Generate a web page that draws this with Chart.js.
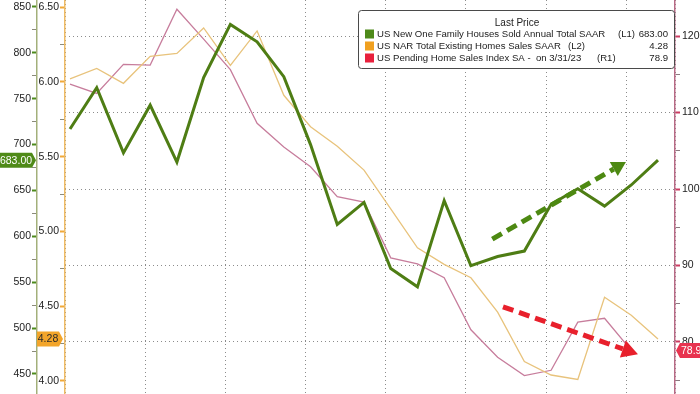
<!DOCTYPE html>
<html>
<head>
<meta charset="utf-8">
<script src="https://cdn.jsdelivr.net/npm/chart.js@4.4.0/dist/chart.umd.min.js"></script>
<style>
  html, body { margin: 0; padding: 0; background: #fff; overflow: hidden; }
</style>
</head>
<body>
<canvas id="grafico" width="700" height="394"></canvas>
<script>
// monthly points, Jun 2021 .. Apr 2023
const months = ['Jun 2021', 'Jul 2021', 'Aug 2021', 'Sep 2021', 'Oct 2021', 'Nov 2021', 'Dec 2021',
  'Jan 2022', 'Feb 2022', 'Mar 2022', 'Apr 2022', 'May 2022', 'Jun 2022', 'Jul 2022', 'Aug 2022',
  'Sep 2022', 'Oct 2022', 'Nov 2022', 'Dec 2022', 'Jan 2023', 'Feb 2023', 'Mar 2023', 'Apr 2023'];
const newHomeSales = [717, 762, 691, 743, 681, 773, 831, 812, 774, 700, 613, 637, 565, 545, 639, 568,
  578, 584, 635, 652, 633, 656, 683];
const existingHomeSales = [6.02, 6.09, 5.99, 6.17, 6.19, 6.36, 6.11, 6.34, 5.91, 5.70, 5.57, 5.41, 5.15,
  4.89, 4.78, 4.69, 4.46, 4.13, 4.04, 4.01, 4.56, 4.44, 4.28];
const pendingIndex = [113.7, 112.5, 116.3, 116.2, 123.5, 119.6, 115.6, 108.6, 105.5, 102.9, 99.0, 98.3,
  91.0, 90.2, 88.4, 81.6, 78.0, 75.6, 76.3, 82.6, 83.1, 78.9, null];

const newSalesTicks = [450, 500, 550, 600, 650, 700, 750, 800, 850];
const existingTicks = [4.0, 4.5, 5.0, 5.5, 6.0, 6.5];
const pendingTicks = [80, 90, 100, 110, 120];

const seriesNames = ['US New One Family Houses Sold Annual Total SAAR', 'US NAR Total Existing Homes Sales SAAR',
  'US Pending Home Sales Index SA -  on 3/31/23'];
const seriesAxes = ['(L1)', '(L2)', '(R1)'];

// arrows: [x from, y from, x to, y to] in data units
const arrowUp = [15.8, 597, 20.8, 681];
const arrowDown = [16.2, 84.6, 21.25, 78.4];

const FONT = 'Liberation Sans';

function toPoints(arr) {
  return arr.map((v, i) => ({x: i, y: v}));
}

// majors + halfway minors
function withMinors(majors) {
  const out = [];
  const step = majors[1] - majors[0];
  majors.forEach(v => { out.push(v - step / 2); out.push(v); });
  out.push(majors[majors.length - 1] + step / 2);
  return out.map(v => ({value: Math.round(v * 1000) / 1000}));
}

function isMajor(list, v) {
  return list.some(m => Math.abs(m - v) < 1e-6);
}

function yAxis(pos, weight, min, max, list, fmt, color, tickColor, width, pad) {
  return {
    position: pos,
    weight: weight,
    bounds: 'data',
    min: min,
    max: max,
    afterBuildTicks: s => { s.ticks = withMinors(list); },
    ticks: {
      autoSkip: false,
      padding: pad,
      color: '#222',
      font: {family: FONT, size: 10.5},
      callback: v => isMajor(list, v) ? fmt(v) : ''
    },
    grid: {
      drawOnChartArea: false,
      tickLength: 5,
      tickColor: c => isMajor(list, c.tick.value) ? tickColor : '#8a8a7a',
      tickWidth: c => isMajor(list, c.tick.value) ? 2 : 1
    },
    border: {color: color, width: 1.5},
    afterFit: s => { s.width = width; s.paddingTop = 0; s.paddingBottom = 0; }
  };
}

function drawArrow(ctx, x1, y1, x2, y2, color, head, half) {
  const a = Math.atan2(y2 - y1, x2 - x1);
  const bx = x2 - head * Math.cos(a), by = y2 - head * Math.sin(a);
  ctx.save();
  ctx.strokeStyle = color;
  ctx.fillStyle = color;
  ctx.lineWidth = 5;
  ctx.setLineDash([11, 6]);
  ctx.beginPath();
  ctx.moveTo(x1, y1);
  ctx.lineTo(bx, by);
  ctx.stroke();
  ctx.setLineDash([]);
  ctx.beginPath();
  ctx.moveTo(x2, y2);
  ctx.lineTo(bx + half * Math.sin(a), by - half * Math.cos(a));
  ctx.lineTo(bx - half * Math.sin(a), by + half * Math.cos(a));
  ctx.closePath();
  ctx.fill();
  ctx.restore();
}

function badge(ctx, text, left, right, y, tip, bg, fg) {
  const h = 15, p = 4;
  ctx.save();
  ctx.fillStyle = bg;
  ctx.beginPath();
  if (tip == 'right') {
    ctx.moveTo(left, y - h / 2);
    ctx.lineTo(right - p, y - h / 2);
    ctx.lineTo(right, y);
    ctx.lineTo(right - p, y + h / 2);
    ctx.lineTo(left, y + h / 2);
  } else {
    ctx.moveTo(right, y - h / 2);
    ctx.lineTo(left + p, y - h / 2);
    ctx.lineTo(left, y);
    ctx.lineTo(left + p, y + h / 2);
    ctx.lineTo(right, y + h / 2);
  }
  ctx.closePath();
  ctx.fill();
  ctx.fillStyle = fg;
  ctx.font = '10.5px "' + FONT + '"';
  ctx.textBaseline = 'middle';
  if (tip == 'right') {
    ctx.textAlign = 'center';
    ctx.fillText(text, (left + right - p) / 2, y + 0.5);
  } else {
    ctx.textAlign = 'left';
    ctx.fillText(text, left + p + 1, y + 0.5);
  }
  ctx.restore();
}

const extras = {
  id: 'extras',
  afterDatasetsDraw(chart) {
    const ctx = chart.ctx;
    const {x, l1, r1} = chart.scales;
    drawArrow(ctx, x.getPixelForValue(arrowUp[0]), l1.getPixelForValue(arrowUp[1]),
      x.getPixelForValue(arrowUp[2]), l1.getPixelForValue(arrowUp[3]), '#4d8912', 14, 8);
    drawArrow(ctx, x.getPixelForValue(arrowDown[0]), r1.getPixelForValue(arrowDown[1]),
      x.getPixelForValue(arrowDown[2]), r1.getPixelForValue(arrowDown[3]), '#e8202c', 16, 9);
  },
  afterDraw(chart) {
    const ctx = chart.ctx;
    const {l1, l2, r1} = chart.scales;
    const lastNew = newHomeSales[newHomeSales.length - 1];
    const lastExisting = existingHomeSales[existingHomeSales.length - 1];
    const lastPending = pendingIndex.filter(v => v != null).pop();

    // legend box
    ctx.save();
    ctx.beginPath();
    ctx.roundRect(358.5, 10.5, 316, 58, 3);
    ctx.fillStyle = '#fff';
    ctx.fill();
    ctx.strokeStyle = '#4a4a4a';
    ctx.lineWidth = 1;
    ctx.stroke();
    ctx.fillStyle = '#222';
    ctx.font = '10px "' + FONT + '"';
    ctx.textBaseline = 'middle';
    ctx.textAlign = 'center';
    ctx.fillText('Last Price', 517, 23);
    ctx.font = '9.6px "' + FONT + '"';
    const rowY = [34, 46, 58];
    const suffixX = [618, 568, 597];
    const colors = ['#4e8a1a', '#f0a020', '#e8203c'];
    const values = [lastNew.toFixed(2), lastExisting.toFixed(2), lastPending.toFixed(1)];
    for (let i = 0; i < 3; i++) {
      ctx.fillStyle = colors[i];
      ctx.fillRect(365, rowY[i] - 4.5, 9, 9);
      ctx.fillStyle = '#222';
      ctx.textAlign = 'left';
      ctx.fillText(seriesNames[i], 377, rowY[i]);
      ctx.fillText(seriesAxes[i], suffixX[i], rowY[i]);
      ctx.textAlign = 'right';
      ctx.fillText(values[i], 668, rowY[i]);
    }
    ctx.restore();

    badge(ctx, lastNew.toFixed(2), 0, 36, l1.getPixelForValue(lastNew), 'right', '#4f8a18', '#fff');
    badge(ctx, lastExisting.toFixed(2), 37, 63, l2.getPixelForValue(lastExisting), 'right', '#f3a52a', '#2a2a2a');
    badge(ctx, lastPending.toFixed(1), 676, 704, r1.getPixelForValue(lastPending), 'left', '#e8334f', '#fff');
  }
};

new Chart(document.getElementById('grafico'), {
  type: 'line',
  data: {
    labels: months,
    datasets: [{
      label: seriesNames[0],
      data: toPoints(newHomeSales),
      yAxisID: 'l1',
      borderColor: '#4e7d14',
      borderWidth: 3,
      pointRadius: 0,
      order: 0
    },
    {
      label: seriesNames[1],
      data: toPoints(existingHomeSales),
      yAxisID: 'l2',
      borderColor: '#e8c37c',
      borderWidth: 1.3,
      pointRadius: 0,
      order: 1
    },
    {
      label: seriesNames[2],
      data: toPoints(pendingIndex),
      yAxisID: 'r1',
      borderColor: '#c77d9c',
      borderWidth: 1.3,
      pointRadius: 0,
      order: 2
    }]
  },
  options: {
    responsive: false,
    animation: false,
    layout: {padding: 0},
    plugins: {
      legend: {display: false},
      tooltip: {enabled: false}
    },
    scales: {
      x: {
        type: 'linear',
        bounds: 'data',
        min: -0.187,
        max: 22.636,
        ticks: {display: false, stepSize: 3, includeBounds: false},
        grid: {color: '#8c8c8c', drawTicks: false},
        border: {display: false, dash: [1, 3]},
        afterFit: s => { s.height = 0; s.paddingLeft = 0; s.paddingRight = 0; }
      },
      l1: yAxis('left', 1, 428.2, 857.6, newSalesTicks, v => String(v), '#a3b07a', '#4c8a1c', 37, 1),
      l2: yAxis('left', 0, 3.913, 6.547, existingTicks, v => v.toFixed(2), '#efbb64', '#f0a838', 28, 1),
      r1: Object.assign(yAxis('right', 0, 73.2, 124.71, pendingTicks, v => String(v), '#b86a86', '#cc3d62', 25, 2), {
        grid: {
          drawOnChartArea: true,
          tickLength: 5,
          color: c => isMajor(pendingTicks, c.tick.value) ? '#8c8c8c' : 'rgba(0,0,0,0)',
          tickColor: c => isMajor(pendingTicks, c.tick.value) ? '#cc3d62' : '#8a7a80',
          tickWidth: c => isMajor(pendingTicks, c.tick.value) ? 2 : 1
        },
        border: {color: '#b86a86', width: 1.5, dash: [1, 3]}
      })
    }
  },
  plugins: [extras]
});
</script>
</body>
</html>
